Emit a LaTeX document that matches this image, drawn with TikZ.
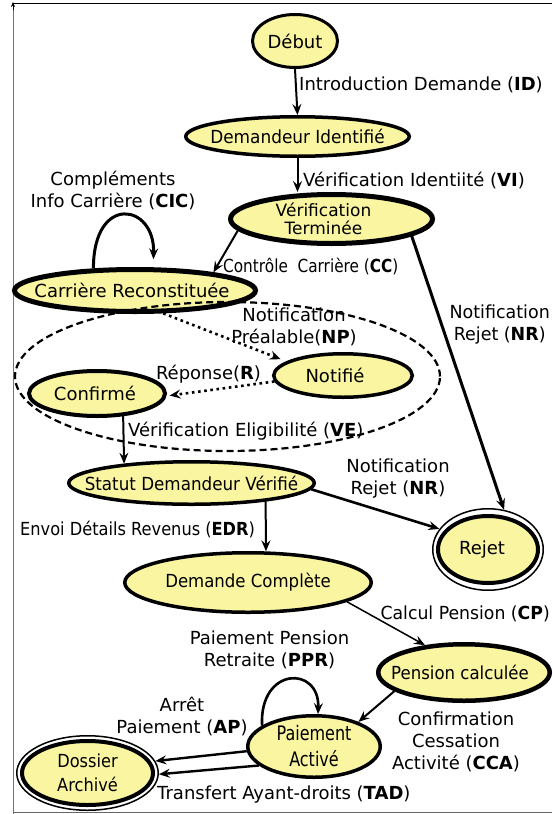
\documentclass[tikz,border=0pt]{standalone}
\usepackage{fontspec}
\usepackage{graphicx}
\setmainfont{DejaVu Sans}
\usetikzlibrary{shapes.geometric,arrows.meta}
\definecolor{stateyellow}{RGB}{249,245,160}
% horizontally condensed text
\newcommand{\cx}[2]{\scalebox{#1}[1]{#2}}
\begin{document}
\begin{tikzpicture}[x=1pt,y=-1pt,
  font=\fontsize{18}{22}\selectfont,
  state/.style={ellipse, draw=black, fill=stateyellow, inner sep=0pt, line width=#1},
  state/.default=3.5pt,
  ring/.style={ellipse, draw=black, fill=white, inner sep=0pt, line width=1.5pt},
  lbl/.style={align=center, inner sep=0pt},
  arr/.style={-{Stealth[length=11pt,width=9pt,inset=4pt]}, line width=#1},
  arr/.default=2pt,
  dots/.style={-{Stealth[length=11pt,width=9pt,inset=4pt]}, line width=2.6pt,
    dash pattern=on 2.6pt off 3.6pt},
  grp/.style={ellipse, draw=black, inner sep=0pt, line width=2.2pt,
    dash pattern=on 7pt off 4pt}
]
\useasboundingbox (0,0) rectangle (552,814);

% frame
\draw[black!55, line width=1pt] (13,814) -- (13,6);
\draw[black, -{Stealth[length=5pt,width=4pt]}, line width=0.6pt] (13,10) -- (13,2);
\draw[black, line width=1pt] (13,3.5) -- (552,3.5);
\draw[black!60, line width=1.4pt] (13,812.5) -- (552,812.5);

% states
\node[state=3pt, minimum width=85, minimum height=53, label={center:Début}] (deb) at (295,41) {};
\node[state, minimum width=223.5, minimum height=39.5,
  label={center:\cx{.94}{Demandeur Identifié}}] (di) at (297.5,136.5) {};
\node[state=5pt, minimum width=202, minimum height=49,
  label={[align=center, xshift=-8pt, font=\fontsize{17}{18.5}\selectfont]center:Vérification\\Terminée}] (vt) at (331.5,219) {};
\node[state=5pt, minimum width=241, minimum height=42,
  label={[xshift=-3pt]center:Carrière Reconstituée}] (cr) at (135,290.5) {};
\node[state, minimum width=138.5, minimum height=43.5,
  label={[xshift=-8pt]center:Notifié}] (nt) at (343,375.5) {};
\node[state=4pt, minimum width=136, minimum height=45,
  label={[xshift=-2pt]center:Confirmé}] (cf) at (97,393.5) {};
\node[state, minimum width=245.5, minimum height=42.5,
  label={center:\cx{.93}{Statut Demandeur Vérifié}}] (st) at (191.5,483) {};
\node[state, minimum width=246.5, minimum height=59.5,
  label={center:\cx{.92}{Demande Complète}}] (dc) at (248,582.5) {};
\node[ring, minimum width=110.5, minimum height=81.5] (rej) at (488,549.5) {};
\node[state=4pt, minimum width=100, minimum height=67,
  label={[xshift=-6pt]center:Rejet}] (rejin) at (rej) {};
\node[state=4.5pt, minimum width=171.5, minimum height=56.5,
  label={[xshift=-4pt]center:\cx{.92}{Pension calculée}}] (pc) at (464,672.5) {};
\node[state, minimum width=132.5, minimum height=61.5,
  label={[align=center, font=\fontsize{20}{26}\selectfont]center:\cx{.8}{Paiement}\\\cx{.8}{Activé}}] (pa) at (314,746.5) {};
\node[ring, minimum width=141.5, minimum height=74.5] (da) at (87.5,773) {};
\node[state=4pt, minimum width=131, minimum height=64,
  label={[align=center, font=\fontsize{18}{24}\selectfont]center:\cx{.9}{Dossier}\\\cx{.9}{Archivé}}] (dain) at (da) {};

% grouping of the notification exchange
\node[grp, minimum width=425, minimum height=149] (grp) at (227.5,376.5) {};

% transitions
\draw[arr] (deb.south) -- (di.north);
\draw[arr] (di.south) -- (di.south |- vt.north);
\draw[arr] (vt.187) -- (cr.13);
\draw[arr=3pt] (vt.-12) -- (rej.68);
\draw[arr=3pt, shorten >=8pt] (cr.152) .. controls +(0,-75) and +(2,-64) .. (cr.52);
\draw[dots, shorten >=6pt] (cr.-39) -- (nt.166);
\draw[dots, shorten >=3pt] (nt.185) -- (cf.-2);
\draw[arr] (cf.-41) -- (st.164);
\draw[arr=2.6pt] (st.-3) -- (rej.157);
\draw[arr] (st.-14) -- (dc.60);
\draw[arr=1.5pt] (dc.-11.5) -- (pc.145);
\draw[arr] (pc.195) -- (pa.29);
\draw[arr=2.6pt] (pa.158) .. controls +(-3,-59) and +(2,-49) .. (pa.83);
\draw[arr=2.4pt] (pa.184) -- (da.10);
\draw[arr=2.4pt] (pa.199) -- (da.-1.5);

% transition labels
\node[lbl, anchor=west] (l-id) at (299,85) {Introduction Demande (\textbf{ID})};
\node[lbl, anchor=west] (l-vi) at (303,180) {Vérification Identiité (\textbf{VI})};
\node[lbl] (l-cic) at (113,190) {Compléments\\Info Carrière (\textbf{CIC})};
\node[lbl, anchor=west] (l-cc) at (223,266) {\cx{.85}{Contrôle\ \ Carrière (\textbf{CC})}};
\node[lbl, anchor=east] (l-nr1) at (550,325) {\cx{.97}{Notification}\\\cx{.97}{Rejet (\textbf{NR})}};
\node[lbl] (l-np) at (294,326.5) {Notification\\Préalable(\textbf{NP})};
\node[lbl] (l-r) at (208.5,374) {Réponse(\textbf{R})};
\node[lbl, anchor=west] (l-ve) at (128,431) {Vérification Eligibilité (\textbf{VE})};
\node[lbl] (l-nr2) at (398,478.5) {Notification\\Rejet (\textbf{NR})};
\node[lbl, anchor=west] (l-edr) at (20,529) {\cx{.9}{Envoi Détails Revenus (\textbf{EDR})}};
\node[lbl, anchor=east] (l-cp) at (550,614) {\cx{.96}{Calcul Pension (\textbf{CP})}};
\node[lbl] (l-ppr) at (269.5,649.5) {Paiement Pension\\Retraite (\textbf{PPR})};
\node[lbl] (l-ap) at (182,716) {Arrêt\\Paiement (\textbf{AP})};
\node[lbl] (l-cca) at (456,742) {Confirmation\\Cessation\\Activité (\textbf{CCA})};
\node[lbl, anchor=west] (l-tad) at (157,795) {Transfert Ayant-droits (\textbf{TAD})};
\end{tikzpicture}
\end{document}
